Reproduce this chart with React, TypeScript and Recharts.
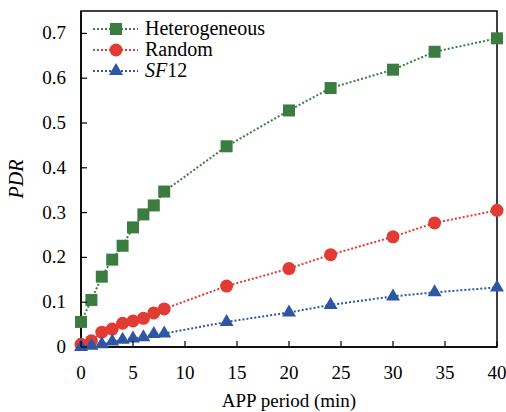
import { LineChart, Line, XAxis, YAxis, ReferenceArea } from "recharts";

const periods = [0, 1, 2, 3, 4, 5, 6, 7, 8, 14, 20, 24, 30, 34, 40];
const heterogeneous = [0.056, 0.105, 0.157, 0.195, 0.226, 0.267, 0.296, 0.316, 0.347, 0.448, 0.528, 0.578, 0.619, 0.659, 0.689];
const random = [0.006, 0.014, 0.033, 0.04, 0.053, 0.058, 0.064, 0.076, 0.085, 0.136, 0.175, 0.206, 0.246, 0.277, 0.305];
const sf12 = [0, 0.003, 0.006, 0.012, 0.016, 0.019, 0.022, 0.029, 0.03, 0.056, 0.077, 0.094, 0.113, 0.122, 0.133];
const xTicks = [0, 5, 10, 15, 20, 25, 30, 35, 40];
const yTicks = [0, 0.1, 0.2, 0.3, 0.4, 0.5, 0.6, 0.7];

const GREEN = "#3b7d41";
const RED = "#e23b33";
const BLUE = "#2f56a5";
const FONT = "'Times New Roman', 'Liberation Serif', serif";
const txt = { fontFamily: FONT, fontSize: 19 };

const data = periods.map((p, i) => ({
  period: p,
  het: heterogeneous[i],
  rnd: random[i],
  sf: sf12[i],
}));

function Square({ cx, cy, fill }: any) {
  if (cx == null || cy == null) return null;
  return <rect x={cx - 6} y={cy - 6} width={12} height={12} fill={fill} />;
}

function Circle({ cx, cy, fill }: any) {
  if (cx == null || cy == null) return null;
  return <circle cx={cx} cy={cy} r={6.5} fill={fill} />;
}

function Triangle({ cx, cy, fill }: any) {
  if (cx == null || cy == null) return null;
  return <polygon points={`${cx},${cy - 8} ${cx + 7},${cy + 4} ${cx - 7},${cy + 4}`} fill={fill} />;
}

function XTick({ x, y, payload }: any) {
  return (
    <g>
      <line x1={x} y1={y} x2={x} y2={y - 6} stroke="#000" strokeWidth={1.2} />
      <text x={x} y={y + 32} textAnchor="middle" style={txt} fill="#000">
        {payload.value}
      </text>
    </g>
  );
}

function YTick({ x, y, payload }: any) {
  return (
    <g>
      <line x1={x} y1={y} x2={x + 6} y2={y} stroke="#000" strokeWidth={1.2} />
      <text x={x - 15} y={y + 6} textAnchor="end" style={txt} fill="#000">
        {payload.value}
      </text>
    </g>
  );
}

const legendItems = [
  { label: "Heterogeneous", color: GREEN, Shape: Square },
  { label: "Random", color: RED, Shape: Circle },
  { label: "SF12", color: BLUE, Shape: Triangle },
];

// legend drawn as an overlay in the top-left corner of the plot
function LegendBox() {
  return (
    <svg width={260} height={90} style={{ position: "absolute", left: 90, top: 9, overflow: "visible" }}>
      {legendItems.map((it, i) => {
        const y = 20 + i * 21;
        return (
          <g key={it.label}>
            <line x1={3} y1={y} x2={48} y2={y} stroke={it.color} strokeWidth={2} strokeDasharray="2 2" />
            <it.Shape cx={26} cy={y} fill={it.color} />
            <text x={55} y={y + 6} style={{ ...txt, fontSize: 20 }} fill="#000">
              {it.label === "SF12" ? (
                <>
                  <tspan fontStyle="italic">SF</tspan>12
                </>
              ) : (
                it.label
              )}
            </text>
          </g>
        );
      })}
    </svg>
  );
}

export default function App() {
  return (
    <div style={{ position: "absolute", left: 0, top: 0, width: 506, height: 412, background: "#fff" }}>
      <LineChart width={506} height={412} data={data} margin={{ top: 11, right: 9, left: 0, bottom: 0 }}>
        <XAxis
          dataKey="period"
          type="number"
          domain={[0, 40]}
          ticks={xTicks}
          tick={<XTick />}
          tickLine={false}
          tickSize={0}
          tickMargin={0}
          height={65}
          axisLine={{ stroke: "#000", strokeWidth: 1.5 }}
          label={{ value: "APP period (min)", position: "insideBottom", offset: 5, style: txt, fill: "#000" }}
        />
        <YAxis
          type="number"
          domain={[0, 0.75]}
          ticks={yTicks}
          tick={<YTick />}
          tickLine={false}
          tickSize={0}
          tickMargin={0}
          width={81}
          axisLine={{ stroke: "#000", strokeWidth: 1.5 }}
          label={{ value: "PDR", angle: -90, position: "insideLeft", offset: 16, style: { ...txt, fontSize: 20, fontStyle: "italic", textAnchor: "middle" }, fill: "#000" }}
        />
        <ReferenceArea x1={0} x2={40} y1={0} y2={0.75} fill="none" stroke="#000" strokeWidth={1.5} />
        <Line dataKey="het" stroke={GREEN} strokeWidth={2} strokeDasharray="2 2" dot={<Square />} fill={GREEN} isAnimationActive={false} />
        <Line dataKey="rnd" stroke={RED} strokeWidth={2} strokeDasharray="2 2" dot={<Circle />} fill={RED} isAnimationActive={false} />
        <Line dataKey="sf" stroke={BLUE} strokeWidth={2} strokeDasharray="2 2" dot={<Triangle />} fill={BLUE} isAnimationActive={false} />
      </LineChart>
      <LegendBox />
    </div>
  );
}
